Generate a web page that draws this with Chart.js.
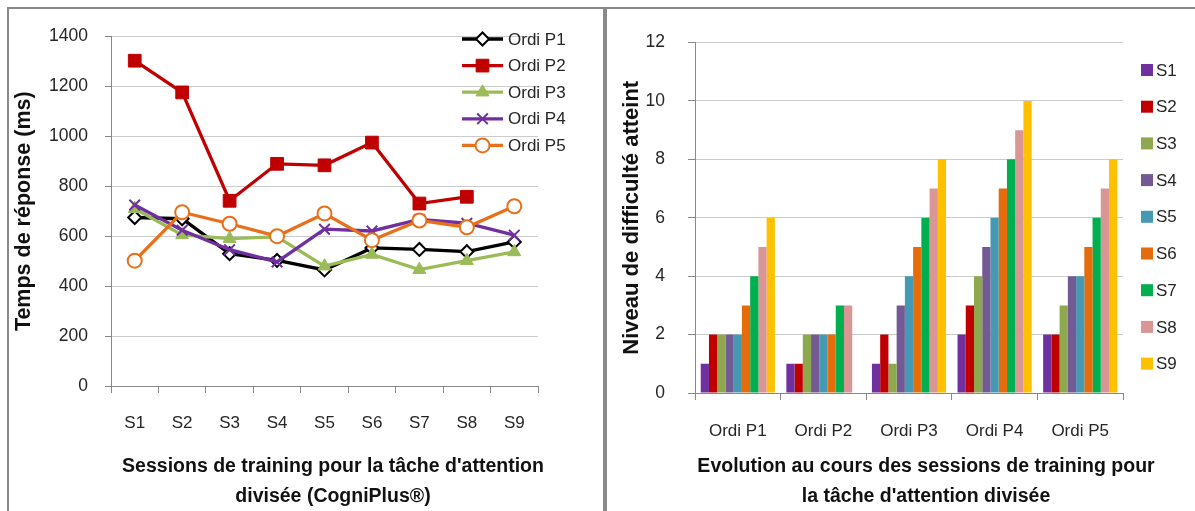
<!DOCTYPE html>
<html>
<head>
<meta charset="utf-8">
<script src="https://cdn.jsdelivr.net/npm/chart.js@4/dist/chart.umd.min.js"></script>
<style>
  html, body { margin: 0; padding: 0; background: #fff; overflow: hidden; }
  body { width: 1195px; height: 511px; position: relative; }
  .panel { position: absolute; top: 7px; border-top: 2px solid #8a8a8a; height: 520px; }
  #panelL { left: 7px; width: 594px; border-left: 2px solid #8a8a8a; border-right: 2px solid #8a8a8a; }
  #panelR { left: 605px; width: 600px; border-left: 2px solid #8a8a8a; }
  canvas { position: absolute; top: 9px; }
  #lineChart { left: 9px; }
  #barChart { left: 607px; }
</style>
</head>
<body>
<div class="panel" id="panelL"></div>
<div class="panel" id="panelR"></div>
<canvas id="lineChart" width="593" height="502"></canvas>
<canvas id="barChart" width="588" height="502"></canvas>
<script>
// left chart: response time per session
const sessions = ['S1', 'S2', 'S3', 'S4', 'S5', 'S6', 'S7', 'S8', 'S9'];
const ordiP1 = [675, 670, 530, 503, 465, 553, 547, 538, 577];
const ordiP2 = [1303, 1176, 742, 890, 884, 975, 731, 758, null];
const ordiP3 = [710, 605, 590, 597, 480, 527, 466, 502, 537];
const ordiP4 = [725, 624, 546, 497, 628, 621, 667, 652, 604];
const ordiP5 = [502, 696, 650, 600, 691, 584, 663, 636, 720];
const timeTicks = [0, 200, 400, 600, 800, 1000, 1200, 1400];

// right chart: difficulty level reached, per computer, one series per session
const ordis = ['Ordi P1', 'Ordi P2', 'Ordi P3', 'Ordi P4', 'Ordi P5'];
const levelS1 = [1, 1, 1, 2, 2];
const levelS2 = [2, 1, 2, 3, 2];
const levelS3 = [2, 2, 1, 4, 3];
const levelS4 = [2, 2, 3, 5, 4];
const levelS5 = [2, 2, 4, 6, 4];
const levelS6 = [3, 2, 5, 7, 5];
const levelS7 = [4, 3, 6, 8, 6];
const levelS8 = [5, 3, 7, 9, 7];
const levelS9 = [6, null, 8, 10, 8];
const levelTicks = [0, 2, 4, 6, 8, 10, 12];

const lineTitle = ["Sessions de training pour la tâche d'attention", 'divisée (CogniPlus®)'];
const barTitle = ['Evolution au cours des sessions de training pour', "la tâche d'attention divisée"];

const FONT = '"Liberation Sans", Arial, sans-serif';
const TXT = '#262626';
const AXIS = '#888888';
const GRID = '#cccccc';

Chart.defaults.font.family = FONT;
Chart.defaults.color = TXT;

function drawMarker(ctx, ds, x, y) {
  ctx.fillStyle = ds.pointBackgroundColor;
  ctx.strokeStyle = ds.pointBorderColor;
  ctx.lineWidth = ds.pointBorderWidth;
  if (Chart.helpers && Chart.helpers.drawPoint) {
    Chart.helpers.drawPoint(ctx, {
      pointStyle: ds.pointStyle, radius: ds.pointRadius, rotation: 0,
      borderWidth: ds.pointBorderWidth
    }, x, y);
  } else {
    ctx.beginPath();
    ctx.arc(x, y, ds.pointRadius, 0, Math.PI * 2);
    ctx.fill();
    ctx.stroke();
  }
}

// x axis title, drawn centred on the whole chart like the Excel original
const xTitle = {
  id: 'xTitle',
  afterDraw(chart, args, opts) {
    const ctx = chart.ctx;
    ctx.save();
    ctx.fillStyle = '#111';
    ctx.font = 'bold 19.5px ' + FONT;
    ctx.textAlign = 'center';
    ctx.textBaseline = 'middle';
    opts.lines.forEach((t, i) => ctx.fillText(t, opts.x, 458 + i * 30));
    ctx.restore();
  }
};

const lineLegend = {
  id: 'lineLegend',
  afterDraw(chart) {
    const ctx = chart.ctx;
    chart.data.datasets.forEach((ds, i) => {
      const y = 30 + i * 26.6;
      ctx.save();
      ctx.strokeStyle = ds.borderColor;
      ctx.lineWidth = ds.borderWidth;
      ctx.beginPath();
      ctx.moveTo(453, y);
      ctx.lineTo(494, y);
      ctx.stroke();
      drawMarker(ctx, ds, 473.5, y);
      ctx.fillStyle = TXT;
      ctx.font = '17px ' + FONT;
      ctx.textBaseline = 'middle';
      ctx.fillText(ds.label, 499, y + 1);
      ctx.restore();
    });
  }
};

const barLegend = {
  id: 'barLegend',
  afterDraw(chart) {
    const ctx = chart.ctx;
    chart.data.datasets.forEach((ds, i) => {
      const y = 61 + i * 36.7;
      ctx.save();
      ctx.fillStyle = ds.backgroundColor;
      ctx.fillRect(534, y - 6, 12, 12);
      ctx.fillStyle = TXT;
      ctx.font = '17px ' + FONT;
      ctx.textBaseline = 'middle';
      ctx.fillText(ds.label, 549, y + 1);
      ctx.restore();
    });
  }
};

function lineSet(label, data, color, style, radius, fill, order) {
  return {
    label, data, order,
    borderColor: color,
    borderWidth: 3.3,
    tension: 0,
    pointStyle: style,
    pointRadius: radius,
    pointBackgroundColor: fill,
    pointBorderColor: color,
    pointBorderWidth: style === 'rect' || style === 'triangle' ? 1 : 2
  };
}

new Chart(document.getElementById('lineChart'), {
  type: 'line',
  data: {
    labels: sessions,
    datasets: [
      lineSet('Ordi P1', ordiP1, '#000000', 'rectRot', 6.5, '#ffffff', 5),
      lineSet('Ordi P2', ordiP2, '#C00000', 'rect', 9, '#C00000', 4),
      lineSet('Ordi P3', ordiP3, '#9BBB59', 'triangle', 7.5, '#9BBB59', 3),
      lineSet('Ordi P4', ordiP4, '#7030A0', 'crossRot', 7.5, '#7030A0', 2),
      lineSet('Ordi P5', ordiP5, '#E8701A', 'circle', 7, '#ffffff', 1)
    ]
  },
  options: {
    responsive: false,
    animation: false,
    layout: { padding: { top: 22, right: 64, bottom: 0, left: 0 } },
    plugins: {
      legend: { display: false },
      tooltip: { enabled: false },
      xTitle: { lines: lineTitle, x: 324 }
    },
    scales: {
      x: {
        offset: true,
        grid: { drawOnChartArea: false, offset: true, tickLength: 7, tickColor: AXIS },
        border: { color: AXIS },
        ticks: { font: { size: 17 }, padding: 20, color: TXT },
        afterFit(scale) { scale.height = 125; }
      },
      y: {
        min: 0, max: 1400,
        afterBuildTicks(scale) { scale.ticks = timeTicks.map(v => ({ value: v })); },
        grid: { color: GRID, tickColor: AXIS, tickLength: 6 },
        border: { color: AXIS },
        ticks: { font: { size: 17.5 }, padding: 17, color: TXT, callback: v => String(v) },
        title: {
          display: true,
          text: 'Temps de réponse (ms)',
          font: { size: 21.5, weight: 'bold' },
          color: '#111',
          padding: { top: 2, bottom: 0 }
        },
        afterFit(scale) { scale.width = 102; }
      }
    }
  },
  plugins: [lineLegend, xTitle]
});

const sessionColors = ['#7030A0', '#C00000', '#8EA84E', '#735A95', '#4599B3', '#E46C0A', '#00B050', '#D99694', '#FFC000'];
const levels = [levelS1, levelS2, levelS3, levelS4, levelS5, levelS6, levelS7, levelS8, levelS9];

new Chart(document.getElementById('barChart'), {
  type: 'bar',
  data: {
    labels: ordis,
    datasets: levels.map((d, i) => ({
      label: sessions[i],
      data: d,
      backgroundColor: sessionColors[i],
      borderWidth: 0,
      barPercentage: 1,
      categoryPercentage: 0.866
    }))
  },
  options: {
    responsive: false,
    animation: false,
    layout: { padding: { top: 25, right: 72, bottom: 0, left: 0 } },
    plugins: {
      legend: { display: false },
      tooltip: { enabled: false },
      xTitle: { lines: barTitle, x: 319 }
    },
    scales: {
      x: {
        grid: { drawOnChartArea: false, offset: true, tickLength: 7, tickColor: AXIS },
        border: { color: AXIS },
        ticks: { font: { size: 17 }, padding: 21, color: TXT },
        afterFit(scale) { scale.height = 118; }
      },
      y: {
        min: 0, max: 12,
        afterBuildTicks(scale) { scale.ticks = levelTicks.map(v => ({ value: v })); },
        grid: { color: GRID, tickColor: AXIS, tickLength: 7 },
        border: { color: AXIS },
        ticks: { font: { size: 17.5 }, padding: 23, color: TXT },
        title: {
          display: true,
          text: 'Niveau de difficulté atteint',
          font: { size: 22, weight: 'bold' },
          color: '#111',
          padding: { top: 12, bottom: 0 }
        },
        afterFit(scale) { scale.width = 88; }
      }
    }
  },
  plugins: [barLegend, xTitle]
});
</script>
</body>
</html>
